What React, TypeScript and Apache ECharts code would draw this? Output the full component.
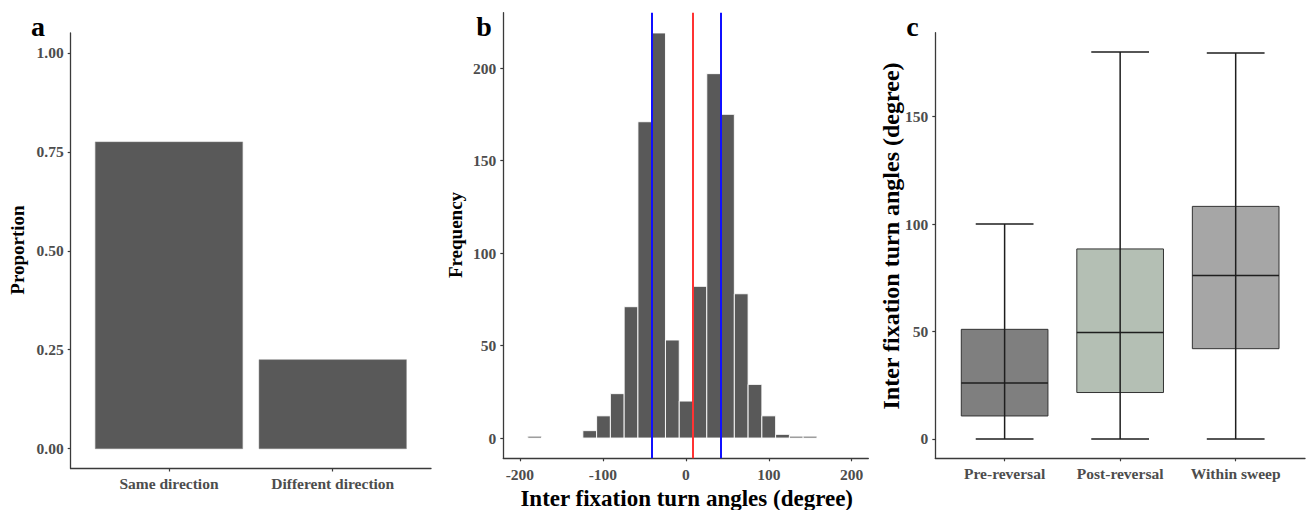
import React, { useEffect, useRef } from "react";
import * as echarts from "echarts";

// ---------- Panel a data ----------
const directionCategories = ["Same direction", "Different direction"];
const directionProportions = [0.775, 0.225];
const proportionTicks = [0, 0.25, 0.5, 0.75, 1];

// ---------- Panel b data ----------
const binEdges = [
  -190.5, -173.9, -157.3, -140.7, -124.1, -107.5, -90.9, -74.3, -57.7, -41.1, -24.5,
  -7.9, 8.7, 25.3, 41.9, 58.5, 75.1, 91.7, 108.3, 124.9, 141.5, 158.1,
];
const binCounts = [1, 0, 0, 0, 4, 12, 24, 71, 171, 219, 53, 20, 82, 197, 175, 78, 29, 12, 2, 1, 1];
const angleTicks = [-200, -100, 0, 100, 200];
const frequencyTicks = [0, 50, 100, 150, 200];
const medianAngle = 8.5;
const quartileAngles = [-41, 42];

// ---------- Panel c data ----------
const phaseCategories = ["Pre-reversal", "Post-reversal", "Within sweep"];
const phaseMin = [0, 0, 0];
const phaseQ1 = [10.7, 21.6, 42];
const phaseMedian = [26, 49.5, 76];
const phaseQ3 = [51, 88.4, 108.2];
const phaseMax = [100, 180, 179.5];
const turnAngleTicks = [0, 50, 100, 150];

const phaseColors = ["#7f7f7f", "#b4bfb4", "#a6a6a6"];

const SERIF = "'Liberation Serif', 'Times New Roman', serif";
const AXIS_COLOR = "#3a3a3a";
const LABEL_COLOR = "#4d4d4d";

function axisBase(gridIndex: number, min: number, max: number, ticks: number[], formatter: (v: number) => string, margin: number) {
  return {
    type: "value" as const,
    gridIndex,
    min,
    max,
    axisLine: { show: true, onZero: false, lineStyle: { color: AXIS_COLOR, width: 1.3 } },
    axisTick: { show: true, length: 3, customValues: ticks, lineStyle: { color: AXIS_COLOR, width: 1.2 } },
    axisLabel: {
      show: true,
      customValues: ticks,
      formatter,
      margin,
      color: LABEL_COLOR,
      fontFamily: SERIF,
      fontWeight: "bold" as const,
      fontSize: 15.5,
    },
    splitLine: { show: false },
  };
}

function textEl(text: string, x: number, y: number, size: number, rotate = false) {
  return {
    type: "text",
    x,
    y,
    rotation: rotate ? Math.PI / 2 : 0,
    style: {
      text,
      font: `bold ${size}px ${SERIF}`,
      fill: "#000",
      textAlign: "center",
      textVerticalAlign: "middle",
      align: "center",
      verticalAlign: "middle",
    },
  };
}

export default function App() {
  const ref = useRef<HTMLDivElement>(null);

  useEffect(() => {
    if (!ref.current) return;
    const chart = echarts.init(ref.current, null, { renderer: "svg" });

    const barData = directionProportions.map((v, i) => [i + 1, v]);
    const histData = binCounts
      .map((c, i) => [binEdges[i], binEdges[i + 1], c])
      .filter((d) => d[2] > 0);
    const boxData = phaseCategories.map((_, i) => [
      i + 1,
      phaseMin[i],
      phaseQ1[i],
      phaseMedian[i],
      phaseQ3[i],
      phaseMax[i],
    ]);

    const option: any = {
      animation: false,
      grid: [
        { left: 70.7, top: 33, width: 360.3, height: 435.5 },
        { left: 503.3, top: 12.7, width: 365, height: 445.6 },
        { left: 935.3, top: 32.7, width: 369.7, height: 425.6 },
      ],
      xAxis: [
        axisBase(0, 0.4, 2.6, [1, 2], (v) => directionCategories[Math.round(v) - 1] ?? "", 7),
        axisBase(1, -220, 220, angleTicks, (v) => String(v), 8),
        axisBase(2, 0.4, 3.6, [1, 2, 3], (v) => phaseCategories[Math.round(v) - 1] ?? "", 7),
      ],
      yAxis: [
        axisBase(0, -0.05, 1.05, proportionTicks, (v) => v.toFixed(2), 7),
        axisBase(1, -10.95, 229.95, frequencyTicks, (v) => String(v), 7),
        axisBase(2, -9, 189, turnAngleTicks, (v) => String(v), 7),
      ],
      series: [
        {
          type: "custom",
          xAxisIndex: 0,
          yAxisIndex: 0,
          data: barData,
          encode: { x: 0, y: 1 },
          renderItem: (params: any, api: any) => {
            const x = api.value(0);
            const y = api.value(1);
            const p0 = api.coord([x - 0.45, 0]);
            const p1 = api.coord([x + 0.45, y]);
            return {
              type: "rect",
              shape: { x: p0[0], y: p1[1], width: p1[0] - p0[0], height: p0[1] - p1[1] },
              style: { fill: "#595959", stroke: "#8a8a8a", lineWidth: 0.5 },
            };
          },
        },
        {
          type: "custom",
          xAxisIndex: 1,
          yAxisIndex: 1,
          data: histData,
          encode: { x: [0, 1], y: 2 },
          renderItem: (params: any, api: any) => {
            const p0 = api.coord([api.value(0), 0]);
            const p1 = api.coord([api.value(1), api.value(2)]);
            return {
              type: "rect",
              shape: { x: p0[0], y: p1[1], width: p1[0] - p0[0], height: p0[1] - p1[1] },
              style: { fill: "#595959", stroke: "#ffffff", lineWidth: 0.9 },
            };
          },
          markLine: {
            silent: true,
            symbol: ["none", "none"],
            label: { show: false },
            data: [
              { xAxis: quartileAngles[0], lineStyle: { color: "#1010ff", width: 2, type: "solid" } },
              { xAxis: medianAngle, lineStyle: { color: "#ff3333", width: 2, type: "solid" } },
              { xAxis: quartileAngles[1], lineStyle: { color: "#1010ff", width: 2, type: "solid" } },
            ],
          },
        },
        {
          type: "custom",
          xAxisIndex: 2,
          yAxisIndex: 2,
          data: boxData,
          encode: { x: 0, y: [1, 2, 3, 4, 5] },
          renderItem: (params: any, api: any) => {
            const x = api.value(0);
            const mn = api.value(1);
            const q1 = api.value(2);
            const md = api.value(3);
            const q3 = api.value(4);
            const mx = api.value(5);
            const bL = api.coord([x - 0.375, q3]);
            const bR = api.coord([x + 0.375, q1]);
            const cL = api.coord([x - 0.25, mn]);
            const cR = api.coord([x + 0.25, mx]);
            const c = api.coord([x, md]);
            const lineStyle = { stroke: "#1e1e1e", lineWidth: 1.5 };
            return {
              type: "group",
              children: [
                {
                  type: "rect",
                  shape: { x: bL[0], y: bL[1], width: bR[0] - bL[0], height: bR[1] - bL[1] },
                  style: { fill: phaseColors[params.dataIndex], stroke: "#333", lineWidth: 1 },
                },
                { type: "line", shape: { x1: c[0], y1: cL[1], x2: c[0], y2: cR[1] }, style: lineStyle },
                { type: "line", shape: { x1: bL[0], y1: c[1], x2: bR[0], y2: c[1] }, style: lineStyle },
                { type: "line", shape: { x1: cL[0], y1: cL[1], x2: cR[0], y2: cL[1] }, style: lineStyle },
                { type: "line", shape: { x1: cL[0], y1: cR[1], x2: cR[0], y2: cR[1] }, style: lineStyle },
              ],
            };
          },
        },
      ],
      graphic: [
        textEl("a", 38, 26, 28),
        textEl("b", 484, 26, 28),
        textEl("c", 912.5, 26, 28),
        textEl("Proportion", 17.5, 250, 19, true),
        textEl("Frequency", 455.3, 235, 19, true),
        textEl("Inter fixation turn angles (degree)", 686.7, 498, 23),
        textEl("Inter fixation turn angles (degree)", 890.8, 236, 24, true),
      ],
    };

    chart.setOption(option);
    return () => chart.dispose();
  }, []);

  return (
    <div
      ref={ref}
      style={{ position: "absolute", left: 0, top: 0, width: 1307, height: 510, background: "#fff" }}
    />
  );
}
